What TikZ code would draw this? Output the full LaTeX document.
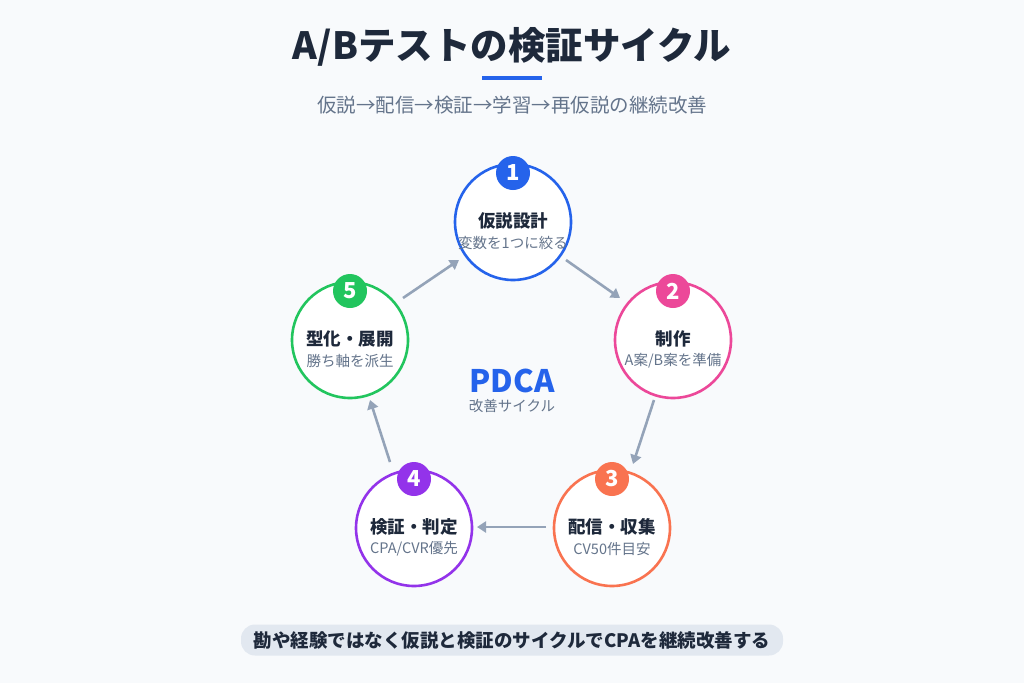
\documentclass[tikz,border=0pt]{standalone}
\usepackage{fontspec}
\setmainfont{Noto Sans CJK JP}
\usetikzlibrary{arrows.meta}
\definecolor{bg}{HTML}{F8FAFC}
\definecolor{ink}{HTML}{1E293B}
\definecolor{sub}{HTML}{64748B}
\definecolor{arr}{HTML}{94A3B8}
\definecolor{cA}{HTML}{2563EB}
\definecolor{cB}{HTML}{EC4899}
\definecolor{cC}{HTML}{F97350}
\definecolor{cD}{HTML}{9333EA}
\definecolor{cE}{HTML}{22C55E}
\definecolor{pill}{HTML}{E2E8F0}
\tikzset{
 stage/.style={circle,draw=#1,line width=2.6pt,fill=white,minimum size=116pt,inner sep=0pt},
 badge/.style={circle,fill=#1,minimum size=34pt,inner sep=0pt,text=white,font=\bfseries\fontsize{22}{22}\selectfont},
 ttl/.style={font=\bfseries\fontsize{17.5}{17.5}\selectfont,text=ink},
 dsc/.style={font=\fontsize{14.5}{14.5}\selectfont,text=sub},
 flow/.style={draw=arr,line width=2.6pt,-{Triangle[length=9pt,width=11pt]}}
}
\begin{document}
\begin{tikzpicture}[x=1pt,y=-1pt]
\fill[bg] (0,0) rectangle (1024,683);
\useasboundingbox (0,0) rectangle (1024,683);
\node[font=\bfseries\fontsize{37.5}{37.5}\selectfont,text=ink] (title) at (512,47) {A/Bテストの検証サイクル};
\fill[cA] (482,76) rectangle (542,80);
\node[font=\fontsize{19.5}{19.5}\selectfont,text=sub] (subt) at (512,105) {仮説→配信→検証→学習→再仮説の継続改善};
\foreach \n/\x/\y/\c/\t/\d in {1/513/222/cA/仮説設計/変数を1つに絞る,2/673/340/cB/制作/{A案/B案を準備},3/612/528/cC/配信・収集/CV50件目安,4/414/528/cD/検証・判定/{CPA/CVR優先},5/350/340/cE/型化・展開/勝ち軸を派生}{
 \node[stage=\c] (s\n) at (\x,\y) {};
 \node[badge=\c] (b\n) at (\x,\y-49) {\n};
 \node[ttl] (t\n) at (\x,\y-1) {\t};
 \node[dsc] (d\n) at (\x,\y+21) {\d};
}
\node[font=\bfseries\fontsize{31}{31}\selectfont,text=cA] (pdca) at (512,381) {PDCA};
\node[dsc] (pdcas) at (512,406) {改善サイクル};
\coordinate (a1s) at (566,260); \coordinate (a1e) at (620,298);
\coordinate (a2s) at (654,400); \coordinate (a2e) at (633,464);
\coordinate (a3s) at (546,527); \coordinate (a3e) at (477,527);
\coordinate (a4s) at (390,462); \coordinate (a4e) at (370,400);
\coordinate (a5s) at (403,298); \coordinate (a5e) at (459,260);
\foreach \i in {1,...,5}{\draw[flow] (a\i s) -- (a\i e);}
\node[fill=pill,rounded corners=14pt,minimum width=542pt,minimum height=31pt,font=\bfseries\fontsize{18.5}{18.5}\selectfont,text=ink] (note) at (512,640) {勘や経験ではなく仮説と検証のサイクルでCPAを継続改善する};
\end{tikzpicture}
\end{document}
